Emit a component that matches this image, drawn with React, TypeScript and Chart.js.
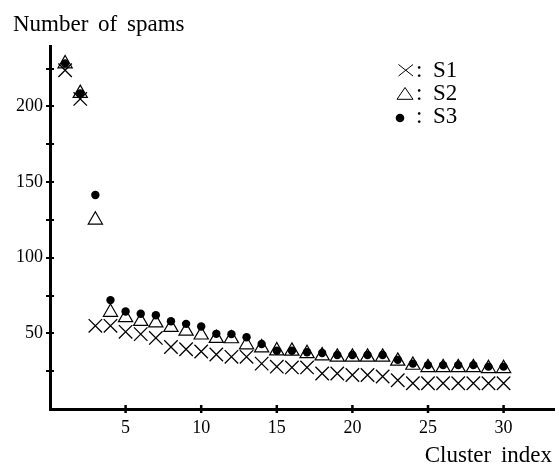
import React, { useEffect, useRef } from 'react';
import { Chart, registerables } from 'chart.js';

Chart.register(...registerables);

// ---- data ----
const clusterIndex = [1, 2, 3, 4, 5, 6, 7, 8, 9, 10, 11, 12, 13, 14, 15, 16, 17, 18, 19, 20, 21, 22, 23, 24, 25, 26, 27, 28, 29, 30];
const s1Values = [224, 205, 55, 55, 51, 49.5, 47, 41, 39.5, 38, 36, 34.5, 34.5, 30, 28, 27.5, 27.5, 23.5, 23.5, 22.5, 22.5, 21.5, 19, 17, 17, 17, 17, 17, 17, 17];
const s2Values = [228.3, 208.7, 125, 64, 60.5, 58, 57, 54, 51.5, 49, 46.7, 46.5, 42.5, 40.5, 38.5, 38.3, 36.7, 35.2, 34.3, 34.3, 34.3, 34.3, 31.7, 29, 27.4, 27.4, 27.4, 27.4, 26.8, 26.8];
const s3Values = [228.5, 208.7, 141.5, 72, 64.5, 63, 62, 58, 56.3, 54.5, 49.7, 49.5, 47.4, 43, 38.5, 38.5, 37.5, 37, 35.7, 35.7, 35.7, 35.7, 32.5, 30, 29, 29, 29, 29, 28, 28];
const seriesNames = ['S1', 'S2', 'S3'];
const yLabelStep = 50;
const yMinorStep = 25;
const xTickStep = 5;
const yMax = 240;
const xMax = 33.4;
const titleText = 'Number of spams';
const xAxisTitle = 'Cluster index';

const FONT = '"Liberation Serif", "Times New Roman", Times, serif';

const toPoints = (vals: number[]) => clusterIndex.map((x, i) => ({ x, y: vals[i] }));

const decorPlugin = {
  id: 'decor',
  afterDraw(chart: any) {
    const { ctx, chartArea } = chart;
    const xs = chart.scales.x;
    const ys = chart.scales.y;
    ctx.save();
    ctx.strokeStyle = '#000';
    ctx.fillStyle = '#000';
    // y tick marks crossing the axis
    ctx.lineWidth = 2;
    ys.ticks.forEach((t: any) => {
      const v = t.value;
      if (v > 0 && v < ys.max && Math.abs(v / yMinorStep - Math.round(v / yMinorStep)) < 1e-6) {
        const py = Math.round(ys.getPixelForValue(v));
        ctx.beginPath();
        ctx.moveTo(chartArea.left - 4, py);
        ctx.lineTo(chartArea.left + 4, py);
        ctx.stroke();
      }
    });
    // x tick marks crossing the axis
    ctx.lineWidth = 2.5;
    xs.ticks.forEach((t: any) => {
      const v = t.value;
      if (v > 0 && v < xs.max && Math.abs(v / xTickStep - Math.round(v / xTickStep)) < 1e-6) {
        const px = xs.getPixelForValue(v);
        ctx.beginPath();
        ctx.moveTo(px, chartArea.bottom - 4);
        ctx.lineTo(px, chartArea.bottom + 4);
        ctx.stroke();
      }
    });

    // titles
    ctx.font = `23px ${FONT}`;
    try { (ctx as any).wordSpacing = '4px'; } catch (e) {}
    ctx.textBaseline = 'alphabetic';
    ctx.textAlign = 'left';
    ctx.fillText(titleText, 13, 31);
    ctx.textAlign = 'right';
    ctx.fillText(xAxisTitle, 552, 462);
    try { (ctx as any).wordSpacing = '0px'; } catch (e) {}

    // legend
    ctx.lineWidth = 1;
    ctx.beginPath();
    ctx.moveTo(398.5, 64.5); ctx.lineTo(413, 76);
    ctx.moveTo(398.5, 76); ctx.lineTo(413, 64.5);
    ctx.stroke();
    ctx.beginPath();
    ctx.moveTo(405, 87.5); ctx.lineTo(413, 99.3); ctx.lineTo(397, 99.3); ctx.closePath();
    ctx.stroke();
    ctx.beginPath();
    ctx.arc(400, 118, 4.3, 0, Math.PI * 2);
    ctx.fill();

    ctx.textAlign = 'left';
    ctx.font = `23px ${FONT}`;
    const baselines = [77, 100, 123];
    seriesNames.forEach((n, i) => {
      ctx.fillText(':', 416, baselines[i]);
      ctx.fillText(n, 433, baselines[i]);
    });
    ctx.restore();
  },
};

export default function App() {
  const ref = useRef<HTMLCanvasElement | null>(null);
  useEffect(() => {
    if (!ref.current) return;
    const chart = new Chart(ref.current, {
      type: 'scatter',
      data: {
        datasets: [
          {
            label: seriesNames[2],
            data: toPoints(s3Values),
            pointStyle: 'circle',
            pointRadius: 4.2,
            backgroundColor: '#000',
            borderColor: '#000',
            borderWidth: 0,
            order: 0,
          },
          {
            label: seriesNames[1],
            data: toPoints(s2Values),
            pointStyle: 'triangle',
            pointRadius: 8.2,
            backgroundColor: 'rgba(0,0,0,0)',
            borderColor: '#000',
            borderWidth: 1.2,
            order: 1,
          },
          {
            label: seriesNames[0],
            data: toPoints(s1Values),
            pointStyle: 'crossRot',
            pointRadius: 9.5,
            backgroundColor: '#000',
            borderColor: '#000',
            borderWidth: 1.3,
            order: 2,
          },
        ],
      },
      options: {
        animation: false,
        responsive: false,
        maintainAspectRatio: false,
        devicePixelRatio: 1,
        clip: false as any,
        layout: { autoPadding: false, padding: { top: 46, left: 0, right: 0, bottom: 0 } },
        plugins: {
          legend: { display: false },
          tooltip: { enabled: false },
          title: { display: false },
        },
        scales: {
          x: {
            type: 'linear',
            min: 0,
            max: xMax,
            grid: { display: false, drawTicks: false },
            border: { display: true, color: '#000', width: 3 },
            ticks: {
              stepSize: xTickStep,
              includeBounds: false,
              autoSkip: false,
              maxRotation: 0,
              minRotation: 0,
              padding: 8,
              color: '#000',
              font: { family: FONT, size: 18 },
              callback: (v: any) => (v > 0 && v % xTickStep === 0 ? String(v) : ''),
            },
            afterFit: (s: any) => { s.height = 57; },
          },
          y: {
            type: 'linear',
            min: 0,
            max: yMax,
            grid: { display: false, drawTicks: false },
            border: { display: true, color: '#000', width: 3 },
            ticks: {
              stepSize: yMinorStep,
              includeBounds: false,
              autoSkip: false,
              padding: 7,
              color: '#000',
              font: { family: FONT, size: 18 },
              callback: (v: any) => (v > 0 && v % yLabelStep === 0 ? String(v) : ''),
            },
            afterFit: (s: any) => { s.width = 50; },
          },
        },
      },
      plugins: [decorPlugin],
    });
    return () => chart.destroy();
  }, []);
  return (
    <div style={{ position: 'absolute', left: 0, top: 0, width: 555, height: 466, background: '#fff' }}>
      <canvas ref={ref} width={555} height={466} style={{ display: 'block' }} />
    </div>
  );
}
